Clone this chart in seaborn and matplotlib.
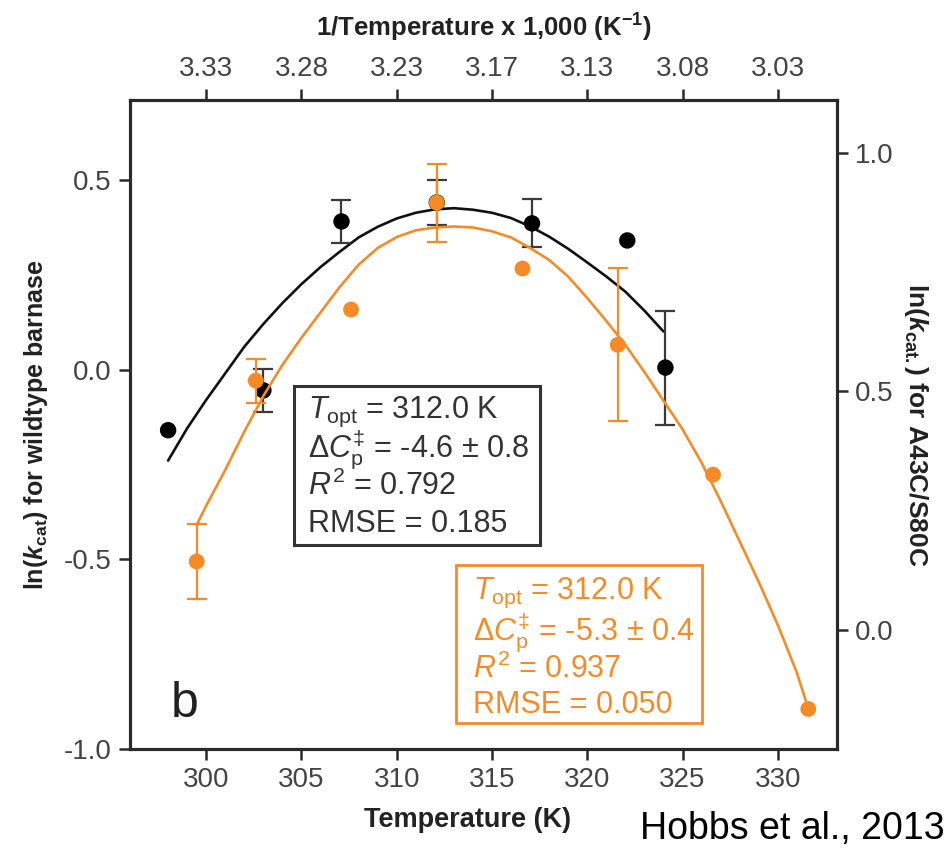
import numpy as np
import pandas as pd
import matplotlib
matplotlib.use("Agg")
import matplotlib.pyplot as plt
from matplotlib.patches import Rectangle
import seaborn as sns

# ---------------- data ----------------
# wildtype barnase (left axis)
wt_T = [298.0, 303.0, 307.1, 312.1, 317.1, 322.1, 324.1]
wt_lnk = [-0.16, -0.055, 0.39, 0.44, 0.385, 0.34, 0.005]
wt_err = [None, 0.057, 0.057, 0.06, 0.063, None, 0.15]

# A43C/S80C (right axis)
mut_T = [299.5, 302.6, 307.6, 312.1, 316.6, 321.6, 326.6, 331.6]
mut_lnk = [0.143, 0.522, 0.671, 0.895, 0.757, 0.597, 0.325, -0.166]
mut_err = [0.078, 0.046, None, 0.082, None, 0.16, None, None]

# fitted curves
wt_fit_T = [298.0, 299.0, 300.0, 301.0, 302.0, 303.0, 304.0, 305.0, 306.0,
            307.0, 308.0, 309.0, 310.0, 311.0, 312.0, 313.0, 314.0, 315.0,
            316.0, 317.0, 318.0, 319.0, 320.0, 321.0, 322.0, 323.0, 324.0]
wt_fit_y = [-0.24, -0.155, -0.08, -0.01, 0.06, 0.12, 0.175, 0.225, 0.27,
            0.31, 0.348, 0.376, 0.398, 0.413, 0.422, 0.425, 0.421, 0.413,
            0.399, 0.377, 0.35, 0.318, 0.282, 0.245, 0.205, 0.155, 0.10]

mut_fit_T = [299.5, 300.0, 301.0, 302.0, 303.0, 304.0, 305.0, 306.0, 307.0,
             308.0, 309.0, 310.0, 311.0, 312.0, 313.0, 314.0, 315.0, 316.0,
             317.0, 318.0, 319.0, 320.0, 321.0, 322.0, 323.0, 324.0, 325.0,
             326.0, 327.0, 328.0, 329.0, 330.0, 331.0, 331.6]
mut_fit_y = [0.22, 0.26, 0.335, 0.415, 0.49, 0.555, 0.612, 0.665, 0.718,
             0.765, 0.80, 0.823, 0.837, 0.843, 0.845, 0.843, 0.835, 0.822,
             0.80, 0.775, 0.74, 0.695, 0.647, 0.597, 0.54, 0.48, 0.42,
             0.35, 0.27, 0.185, 0.10, 0.01, -0.09, -0.165]

x_ticks = [300, 305, 310, 315, 320, 325, 330]
top_labels = ["3.33", "3.28", "3.23", "3.17", "3.13", "3.08", "3.03"]
left_ticks = [-1.0, -0.5, 0.0, 0.5]
right_ticks = [0.0, 0.5, 1.0]

wt_stats = [r"$T_{\rm opt}$ = 312.0 K",
            r"$\Delta C^{\ddag}_{\rm p}$ = -4.6 ± 0.8",
            r"$R^{2}$ = 0.792",
            "RMSE = 0.185"]
mut_stats = [r"$T_{\rm opt}$ = 312.0 K",
             r"$\Delta C^{\ddag}_{\rm p}$ = -5.3 ± 0.4",
             r"$R^{2}$ = 0.937",
             "RMSE = 0.050"]

# ---------------- style ----------------
sns.set_style("ticks")
plt.rcParams['font.family'] = ['Liberation Sans', 'DejaVu Sans']
plt.rcParams['mathtext.fontset'] = 'custom'
plt.rcParams['mathtext.rm'] = 'Liberation Sans'
plt.rcParams['mathtext.it'] = 'Liberation Sans:italic'
plt.rcParams['mathtext.bf'] = 'Liberation Sans:bold'
plt.rcParams['mathtext.bfit'] = 'Liberation Sans:italic:bold'

ORANGE = '#F68B26'
DARK = '#2a2a2a'
TICKC = '#444444'

fig = plt.figure(figsize=(9.51, 8.58), dpi=100)
ax = fig.add_axes([0.1367, 0.127, 0.7433, 0.7564])
ax2 = ax.twinx()
ax3 = ax.twiny()

# ---- wildtype (left axis) ----
wt_df = pd.DataFrame({'T': wt_T, 'y': wt_lnk, 'e': wt_err})
sns.lineplot(x=wt_fit_T, y=wt_fit_y, ax=ax, color='#111111', lw=1.9,
             sort=False, estimator=None, zorder=2)
eb = wt_df.dropna()
ax.errorbar(eb['T'], eb['y'], yerr=eb['e'], fmt='none', ecolor='#3a3a3a',
            elinewidth=1.6, capsize=7, capthick=1.6, zorder=3)
sns.scatterplot(data=wt_df, x='T', y='y', ax=ax, color='black', s=140,
                edgecolor='none', zorder=4, legend=False)

# ---- mutant (right axis) ----
mut_df = pd.DataFrame({'T': mut_T, 'y': mut_lnk, 'e': mut_err})
sns.lineplot(x=mut_fit_T, y=mut_fit_y, ax=ax2, color=ORANGE, lw=1.9,
             sort=False, estimator=None, zorder=2)
eb2 = mut_df.dropna()
ax2.errorbar(eb2['T'], eb2['y'], yerr=eb2['e'], fmt='none', ecolor=ORANGE,
             elinewidth=1.6, capsize=7, capthick=1.6, zorder=3)
sns.scatterplot(data=mut_df, x='T', y='y', ax=ax2, color=ORANGE, s=130,
                edgecolor='none', zorder=4, legend=False)

# ---- limits and ticks ----
xlim = (296.0, 333.1)
ax.set_xlim(*xlim)
ax.set_ylim(-1.0, 0.71)
ax2.set_ylim(-0.25, 1.11)
ax3.set_xlim(*xlim)

ax.set_xticks(x_ticks)
ax.set_xticklabels([str(t) for t in x_ticks])
ax.set_yticks(left_ticks)
ax.set_yticklabels([f"{v:.1f}" for v in left_ticks])
ax2.set_yticks(right_ticks)
ax2.set_yticklabels([f"{v:.1f}" for v in right_ticks])
ax3.set_xticks(x_ticks)
ax3.set_xticklabels(top_labels)

for a in (ax, ax2, ax3):
    a.tick_params(direction='out', length=8, width=1.8, color=DARK,
                  labelsize=20, labelcolor=TICKC, pad=5)
    for s in a.spines.values():
        s.set_visible(True)
        s.set_linewidth(2.2)
        s.set_color(DARK)
ax.tick_params(axis='x', top=False)
ax2.set_xlabel('')

ax.set_xlabel('Temperature (K)', fontsize=19.5, fontweight='bold',
              color='#222222', labelpad=10)
ax.xaxis.label.set_x(0.477)
ax.set_ylabel(r'ln($\mathbfit{k}_{\mathbf{cat}}$) for wildtype barnase',
              fontsize=18, fontweight='bold', color='#222222', labelpad=10)
ax2.set_ylabel(r'ln($\mathbfit{k}_{\mathbf{cat.}}$) for A43C/S80C',
               fontsize=19, fontweight='bold', color='#222222',
               rotation=270, labelpad=26)
ax3.set_xlabel(r'1/Temperature x 1,000 (K$^{\mathbf{-1}}$)', fontsize=18.5,
               fontweight='bold', color='#222222', labelpad=14)

# ---- statistic boxes (fixed boxes + lines of text) ----
def stat_box(a, x0, y0, x1, y1, tx, baselines, lines, color, lw):
    a.add_patch(Rectangle((x0, y0), x1 - x0, y1 - y0, transform=a.transAxes,
                          facecolor='white', edgecolor=color, linewidth=lw,
                          zorder=5))
    for yb, line in zip(baselines, lines):
        a.text(tx, yb, line, transform=a.transAxes, fontsize=22, color=color,
               ha='left', va='baseline', zorder=6)

stat_box(ax, 0.232, 0.314, 0.580, 0.559, 0.252,
         [0.510, 0.450, 0.391, 0.334], wt_stats, '#333333', 2.2)
stat_box(ax2, 0.461, 0.040, 0.809, 0.2835, 0.485,
         [0.231, 0.169, 0.109, 0.055], mut_stats, ORANGE, 2.0)

ax.text(0.057, 0.05, 'b', transform=ax.transAxes, fontsize=36,
        color='#222222', ha='left', va='baseline')

fig.text(0.993, 0.022, 'Hobbs et al., 2013', fontsize=27, color='black',
         ha='right', va='baseline')

fig.savefig('out.png', dpi=100)
